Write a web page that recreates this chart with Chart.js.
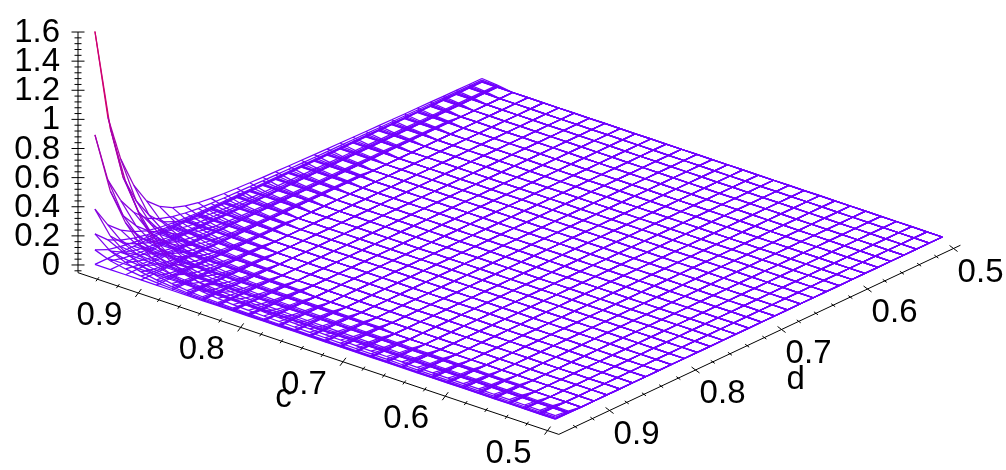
<!DOCTYPE html>
<html>
<head>
<meta charset="utf-8">
<script src="https://cdn.jsdelivr.net/npm/chart.js@4.4.0/dist/chart.umd.min.js"></script>
<style>
  body { margin: 0; background: #fff; }
  #wrap { width: 1006px; height: 470px; }
</style>
</head>
<body>
<div id="wrap"><canvas id="myChart"></canvas></div>
<script>
// grid lines of the mesh (index 0 is the corner c = d = 0.95)
const cValues = [0.95, 0.935, 0.92, 0.905, 0.89, 0.875, 0.86, 0.845, 0.83, 0.815, 0.8,
  0.785, 0.77, 0.755, 0.74, 0.725, 0.71, 0.695, 0.68, 0.665, 0.65, 0.635, 0.62, 0.605,
  0.59, 0.575, 0.56, 0.545, 0.53, 0.515, 0.5];
const dValues = [0.95, 0.935, 0.92, 0.905, 0.89, 0.875, 0.86, 0.845, 0.83, 0.815, 0.8,
  0.785, 0.77, 0.755, 0.74, 0.725, 0.71, 0.695, 0.68, 0.665, 0.65, 0.635, 0.62, 0.605,
  0.59, 0.575, 0.56, 0.545, 0.53, 0.515, 0.5];

// corner heights of the stacked surfaces
const peakHeights = [1.6, 0.89, 0.38, 0.21, 0.1, 0];

// z of the highest surface, row = c index, column = d index (missing = 0)
const topSurface = [
  [1.6, 0.97, 0.64, 0.42, 0.27, 0.19, 0.14, 0.11, 0.09, 0.078, 0.07, 0.064, 0.06, 0.056, 0.053, 0.05, 0.048, 0.045, 0.043, 0.041, 0.039, 0.037, 0.035, 0.034, 0.032, 0.031, 0.03, 0.028, 0.027, 0.026, 0.025],
  [0.97, 0.59, 0.39, 0.25, 0.16, 0.12, 0.085, 0.067, 0.055, 0.047, 0.042, 0.039, 0.036, 0.034, 0.032, 0.03, 0.029, 0.027, 0.026, 0.025, 0.024, 0.022, 0.021, 0.021, 0.019, 0.019, 0.018, 0.017, 0.016, 0.016, 0.015],
  [0.64, 0.39, 0.26, 0.17, 0.11, 0.076, 0.056, 0.044, 0.036, 0.031, 0.028, 0.026, 0.024, 0.022, 0.021, 0.02, 0.019, 0.018, 0.017, 0.016, 0.016, 0.015, 0.014, 0.014, 0.013, 0.012],
  [0.42, 0.25, 0.17, 0.11, 0.071, 0.05, 0.037, 0.029, 0.024, 0.02, 0.018, 0.017, 0.016, 0.015, 0.014, 0.013, 0.013, 0.012],
  [0.27, 0.16, 0.11, 0.071, 0.046, 0.032, 0.024, 0.019, 0.015, 0.013, 0.012],
  [0.19, 0.12, 0.076, 0.05, 0.032, 0.023, 0.017, 0.013],
  [0.14, 0.085, 0.056, 0.037, 0.024, 0.017, 0.012],
  [0.11, 0.067, 0.044, 0.029, 0.019, 0.013],
  [0.09, 0.055, 0.036, 0.024, 0.015],
  [0.078, 0.047, 0.031, 0.02, 0.013],
  [0.07, 0.042, 0.028, 0.018, 0.012],
  [0.064, 0.039, 0.026, 0.017],
  [0.06, 0.036, 0.024, 0.016],
  [0.056, 0.034, 0.022, 0.015],
  [0.053, 0.032, 0.021, 0.014],
  [0.05, 0.03, 0.02, 0.013],
  [0.048, 0.029, 0.019, 0.013],
  [0.045, 0.027, 0.018],
  [0.043, 0.026, 0.017],
  [0.041, 0.025, 0.016],
  [0.039, 0.024, 0.016],
  [0.037, 0.022, 0.015],
  [0.035, 0.021, 0.014],
  [0.034, 0.021, 0.014],
  [0.032, 0.019, 0.013],
  [0.031, 0.019, 0.012],
  [0.03, 0.018, 0.012],
  [0.028, 0.017],
  [0.027, 0.016],
  [0.026, 0.016],
  [0.025, 0.015]
];

const cTickValues = [0.5, 0.6, 0.7, 0.8, 0.9];
const cTickLabels = ['0.5', '0.6', '0.7', '0.8', '0.9'];
const dTickValues = [0.5, 0.6, 0.7, 0.8, 0.9];
const dTickLabels = ['0.5', '0.6', '0.7', '0.8', '0.9'];
const zTickValues = [0, 0.2, 0.4, 0.6, 0.8, 1, 1.2, 1.4, 1.6];
const zTickLabels = ['0', '0.2', '0.4', '0.6', '0.8', '1', '1.2', '1.4', '1.6'];

// view of the 3d box
const view = {
  ox: 78, oy: 272.7,
  cTop: 0.959, cLow: 0.489,
  dTop: 0.959, dLow: 0.492,
  zBase: -0.053, zTop: 1.6,
  cx: 1023, cy: 344, dx: 860, dy: -405, zy: 145.6
};

function project(c, d, z) {
  return {
    x: view.ox + (view.cTop - c) * view.cx + (view.dTop - d) * view.dx,
    y: view.oy + (view.cTop - c) * view.cy + (view.dTop - d) * view.dy - (z - view.zBase) * view.zy
  };
}

function zAt(s, i, j) {
  const row = topSurface[i] || [];
  const v = j < row.length ? row[j] : 0;
  return v * peakHeights[s] / peakHeights[0];
}

function zColor(z) {
  const t = Math.max(0, Math.min(1, z / 1.6));
  const r = Math.round(112 + 118 * t);
  const b = Math.round(255 - 175 * t);
  return 'rgb(' + r + ',0,' + b + ')';
}

function meshLine(points) {
  return {
    data: points,
    showLine: true,
    borderWidth: 1.25,
    borderColor: zColor(0),
    pointRadius: 0,
    pointHoverRadius: 0,
    segment: {
      borderColor: ctx => zColor((points[ctx.p0DataIndex].z + points[ctx.p1DataIndex].z) / 2)
    }
  };
}

const datasets = [];
peakHeights.forEach((peak, s) => {
  cValues.forEach((c, i) => {
    const pts = dValues.map((d, j) => {
      const z = zAt(s, i, j);
      return Object.assign(project(c, d, z), { z: z });
    });
    datasets.push(meshLine(pts));
  });
  dValues.forEach((d, j) => {
    const pts = cValues.map((c, i) => {
      const z = zAt(s, i, j);
      return Object.assign(project(c, d, z), { z: z });
    });
    datasets.push(meshLine(pts));
  });
});

const labelFont = '33px "Liberation Sans", Arial, sans-serif';

const axesPlugin = {
  id: 'axes3d',
  beforeDatasetsDraw(chart) {
    const ctx = chart.ctx;
    const sx = chart.scales.x;
    const sy = chart.scales.y;
    const px = p => ({ x: sx.getPixelForValue(p.x), y: sy.getPixelForValue(p.y) });

    ctx.save();
    ctx.strokeStyle = '#000';
    ctx.lineWidth = 1;

    const seg = (a, b) => {
      ctx.beginPath();
      ctx.moveTo(a.x, a.y);
      ctx.lineTo(b.x, b.y);
      ctx.stroke();
    };
    const tick = (p, ux, uy, len) => {
      seg({ x: p.x - ux * len, y: p.y - uy * len }, { x: p.x + ux * len, y: p.y + uy * len });
    };

    // base axes and z axis
    const corner = px(project(view.cTop, view.dTop, view.zBase));
    const front = px(project(view.cLow, view.dTop, view.zBase));
    const right = px(project(view.cLow, view.dLow, view.zBase));
    const zEnd = px(project(view.cTop, view.dTop, view.zTop));
    seg(corner, front);
    seg(front, right);
    seg(corner, zEnd);

    // c axis ticks
    for (let k = 0; k <= 22; k++) {
      const v = 0.5 + k * 0.02;
      const major = k % 5 === 0;
      tick(px(project(v, view.dTop, view.zBase)), 0.6, -0.8, major ? 5 : 2.5);
    }
    // d axis ticks
    for (let k = 0; k <= 22; k++) {
      const v = 0.5 + k * 0.02;
      const major = k % 5 === 0;
      tick(px(project(view.cLow, v, view.zBase)), 0.8, 0.6, major ? 5 : 2.5);
    }
    // z axis ticks
    for (let k = -1; k <= 40; k++) {
      const v = k * 0.04;
      const major = k % 5 === 0;
      tick(px(project(view.cTop, view.dTop, v)), 1, 0, major ? 6.5 : 3.5);
    }

    ctx.fillStyle = '#000';
    ctx.font = labelFont;
    ctx.textBaseline = 'middle';

    ctx.textAlign = 'center';
    cTickValues.forEach((v, k) => {
      const p = px(project(v, view.dTop, view.zBase));
      ctx.fillText(cTickLabels[k], p.x - 39, p.y + 23);
    });
    dTickValues.forEach((v, k) => {
      const p = px(project(view.cLow, v, view.zBase));
      ctx.fillText(dTickLabels[k], p.x + 27, p.y + 24);
    });
    ctx.textAlign = 'right';
    zTickValues.forEach((v, k) => {
      const p = px(project(view.cTop, view.dTop, v));
      ctx.fillText(zTickLabels[k], p.x - 18, p.y + 1);
    });

    ctx.textAlign = 'center';
    const cMid = px(project((view.cTop + view.cLow) / 2, view.dTop, view.zBase));
    ctx.fillText('c', cMid.x - 35, cMid.y + 44);
    const dMid = px(project(view.cLow, (view.dTop + view.dLow) / 2, view.zBase));
    ctx.fillText('d', dMid.x + 36, dMid.y + 40);

    ctx.restore();
  }
};

const myChart = new Chart(document.getElementById('myChart').getContext('2d'), {
  type: 'scatter',
  data: { datasets: datasets },
  options: {
    responsive: true,
    maintainAspectRatio: false,
    animation: false,
    events: [],
    layout: { padding: 0 },
    plugins: { legend: { display: false }, tooltip: { enabled: false } },
    scales: {
      x: { type: 'linear', min: 0, max: 1006, display: false },
      y: { type: 'linear', min: 0, max: 470, reverse: true, display: false }
    }
  },
  plugins: [axesPlugin]
});
</script>
</body>
</html>
